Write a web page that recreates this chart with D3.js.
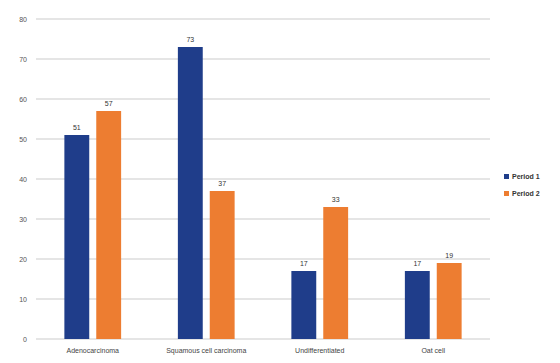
<!DOCTYPE html>
<meta charset="utf-8">
<style>
    body { margin: 0; background: #fff; }
    text { font-family: 'Liberation Sans Narrow', 'Liberation Sans', sans-serif; }
</style>
<svg width="560" height="363"></svg>
<script src="https://d3js.org/d3.v7.min.js"></script>
<script>

    var categories = ["Adenocarcinoma", "Squamous cell carcinoma", "Undifferentiated", "Oat cell"];
    var seriesNames = ["Period 1", "Period 2"];
    var period1 = [51, 73, 17, 17];
    var period2 = [57, 37, 33, 19];
    var yTicks = [0, 10, 20, 30, 40, 50, 60, 70, 80];
    var colors = ["#1f3d8a", "#ed7d31"];

    var svg = d3.select("svg");
    var plotLeft = 36, plotRight = 490, plotTop = 19, plotBottom = 339;

    var x0 = d3.scaleBand().domain(categories).range([plotLeft, plotRight])
        .paddingInner(0.5).paddingOuter(0.25);
    var x1 = d3.scaleBand().domain(seriesNames).range([0, x0.bandwidth()])
        .paddingInner(0.22);
    var y = d3.scaleLinear().domain([0, 80]).range([plotBottom, plotTop]);

    // gridlines
    svg.append("g").selectAll("line").data(yTicks).enter().append("line")
        .attr("x1", plotLeft).attr("x2", plotRight)
        .attr("y1", function (d) { return y(d); })
        .attr("y2", function (d) { return y(d); })
        .style("stroke", "#dcdcdc").style("stroke-width", 1.5);

    // y tick labels
    svg.append("g").selectAll("text").data(yTicks).enter().append("text")
        .attr("x", 27).attr("y", function (d) { return y(d) + 2.5; })
        .attr("text-anchor", "end")
        .style("font-size", "7px").style("fill", "#555")
        .text(function (d) { return d; });

    var rows = categories.map(function (c, i) {
        return { cat: c, vals: [period1[i], period2[i]] };
    });

    var groups = svg.append("g").selectAll("g").data(rows).enter().append("g")
        .attr("transform", function (d) { return "translate(" + x0(d.cat) + ",0)"; });

    groups.selectAll("rect")
        .data(function (d) { return d.vals.map(function (v, j) { return { s: seriesNames[j], v: v, j: j }; }); })
        .enter().append("rect")
        .attr("x", function (d) { return x1(d.s); })
        .attr("y", function (d) { return y(d.v); })
        .attr("width", x1.bandwidth())
        .attr("height", function (d) { return y(0) - y(d.v); })
        .style("fill", function (d) { return colors[d.j]; });

    groups.selectAll("text.val")
        .data(function (d) { return d.vals.map(function (v, j) { return { s: seriesNames[j], v: v }; }); })
        .enter().append("text")
        .attr("class", "val")
        .attr("x", function (d) { return x1(d.s) + x1.bandwidth() / 2; })
        .attr("y", function (d) { return y(d.v) - 5; })
        .attr("text-anchor", "middle")
        .style("font-size", "7px").style("fill", "#333")
        .text(function (d) { return d.v; });

    // category labels
    svg.append("g").selectAll("text").data(categories).enter().append("text")
        .attr("x", function (d) { return x0(d) + x0.bandwidth() / 2; })
        .attr("y", 353)
        .attr("text-anchor", "middle")
        .style("font-size", "7px").style("fill", "#444")
        .text(function (d) { return d; });

    // legend
    var legend = svg.append("g").selectAll("g").data(seriesNames).enter().append("g")
        .attr("transform", function (d, i) { return "translate(504," + (174 + i * 17) + ")"; });
    legend.append("rect").attr("width", 5).attr("height", 5)
        .style("fill", function (d, i) { return colors[i]; });
    legend.append("text").attr("x", 8).attr("y", 5)
        .style("font-size", "7px").style("font-weight", "bold").style("fill", "#333")
        .text(function (d) { return d; });

</script>
